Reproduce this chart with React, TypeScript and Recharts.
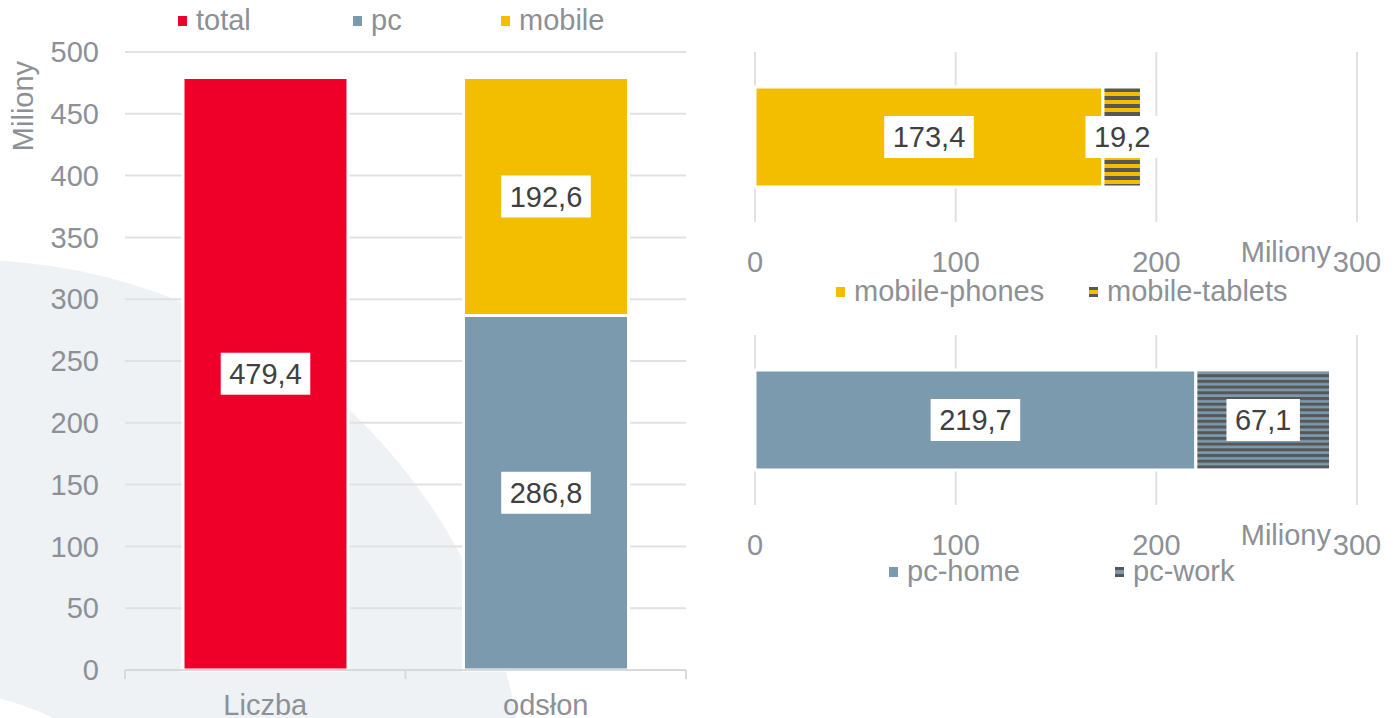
import React from "react";
import { BarChart, Bar, XAxis, YAxis, CartesianGrid, LabelList, Label } from "recharts";

// left chart: total vs pc + mobile
const categories = ["Liczba", "odsłon"];
const totalValues = [479.4, null];
const pcValues = [null, 286.8];
const mobileValues = [null, 192.6];
const leftTicks = [0, 50, 100, 150, 200, 250, 300, 350, 400, 450, 500];

// right charts
const mobileCategory = ["mobile"];
const mobilePhones = [173.4];
const mobileTablets = [19.2];
const pcCategory = ["pc"];
const pcHome = [219.7];
const pcWork = [67.1];
const rightTicks = [0, 100, 200, 300];

const FONT = '"Liberation Sans", Arial, Helvetica, sans-serif';
const GRAY = "#8d9095";
const DARK_TEXT = "#404040";
const GRID = "#e1e1e1";
const RED = "#ef0029";
const BLUE = "#7b9aae";
const YELLOW = "#f4be00";
const STRIPE = "#575757";
const FS = 29;

const leftData = categories.map((c, i) => ({
  category: c,
  total: totalValues[i],
  pc: pcValues[i],
  mobile: mobileValues[i],
}));
const mobileData = mobileCategory.map((c, i) => ({
  category: c,
  phones: mobilePhones[i],
  tablets: mobileTablets[i],
}));
const pcData = pcCategory.map((c, i) => ({
  category: c,
  home: pcHome[i],
  work: pcWork[i],
}));

const fmt = (v: number) => v.toFixed(1).replace(".", ",");

// rough Arial width of a number string
const textWidth = (s: string) =>
  s.split("").reduce((w, ch) => w + (ch === "," ? 0.278 : 0.556), 0) * FS;

const BoxLabel = (props: any) => {
  const { x, y, width, height, value } = props;
  if (value == null) return null;
  const text = fmt(Number(value));
  const w = textWidth(text) + 17;
  const h = 42;
  const cx = Number(x) + Number(width) / 2;
  const cy = Number(y) + Number(height) / 2;
  return (
    <g>
      <rect x={cx - w / 2} y={cy - h / 2} width={w} height={h} fill="#fff" />
      <text
        x={cx}
        y={cy}
        dy="0.36em"
        textAnchor="middle"
        fontSize={FS}
        fontFamily={FONT}
        fill={DARK_TEXT}
      >
        {text}
      </text>
    </g>
  );
};

const LEFT_W = 700;
const LEFT_H = 718;
const leftMargin = { top: 52, right: 14, bottom: 0, left: 0 };
const Y_AXIS_W = 125;
const HALF_BAND = (LEFT_W - leftMargin.right - leftMargin.left - Y_AXIS_W) / categories.length / 2;
const CAT_MARGIN = 24;

const CategoryTick = (props: any) => {
  const { x, y, payload, index } = props;
  const axisY = y - CAT_MARGIN;
  return (
    <g>
      <line x1={x - HALF_BAND} x2={x - HALF_BAND} y1={axisY} y2={axisY + 9} stroke="#d9d9d9" strokeWidth={2} />
      {index === categories.length - 1 && (
        <line x1={x + HALF_BAND} x2={x + HALF_BAND} y1={axisY} y2={axisY + 9} stroke="#d9d9d9" strokeWidth={2} />
      )}
      <text x={x} y={y} dy="0.71em" textAnchor="middle" fontSize={FS} fontFamily={FONT} fill={GRAY}>
        {payload.value}
      </text>
    </g>
  );
};

const LeftUnitLabel = (props: any) => {
  const vb = props.viewBox || { x: 0, y: 52 };
  const x = vb.x + 33;
  const y = vb.y + 54;
  return (
    <text
      x={x}
      y={y}
      transform={`rotate(-90, ${x}, ${y})`}
      textAnchor="middle"
      fontSize={FS}
      fontFamily={FONT}
      fill={GRAY}
    >
      Miliony
    </text>
  );
};

const RightUnitLabel = (props: any) => {
  const vb = props.viewBox || { x: 755, y: 222, width: 602 };
  return (
    <text
      x={vb.x + vb.width - 26}
      y={vb.y + 40}
      textAnchor="end"
      fontSize={FS}
      fontFamily={FONT}
      fill={GRAY}
    >
      Miliony
    </text>
  );
};

type LegendItem = { label: string; left: number; marker: string };

const HtmlLegend = ({ top, items }: { top: number; items: LegendItem[] }) => (
  <>
    {items.map((it) => (
      <div
        key={it.label}
        style={{
          position: "absolute",
          left: it.left,
          top,
          height: FS,
          lineHeight: `${FS}px`,
          fontSize: FS,
          fontFamily: FONT,
          color: GRAY,
          whiteSpace: "nowrap",
        }}
      >
        <span
          style={{
            position: "absolute",
            left: 0,
            top: 10,
            width: 9,
            height: 10,
            background: it.marker,
          }}
        />
        <span style={{ position: "absolute", left: 18, top: 0 }}>{it.label}</span>
      </div>
    ))}
  </>
);

const stripes = (base: string) =>
  `linear-gradient(to bottom, ${STRIPE} 0 3px, ${base} 3px 7px, ${STRIPE} 7px 10px)`;

const RightChart = ({
  data,
  keys,
  fills,
  top,
}: {
  data: any[];
  keys: string[];
  fills: string[];
  top: number;
}) => (
  <div style={{ position: "absolute", left: 700, top }}>
    <BarChart
      layout="vertical"
      width={698}
      height={278}
      data={data}
      margin={{ top: 52, right: 41, bottom: 0, left: 55 }}
      barSize={100}
    >
      <defs>
        <pattern id="stripeYellow" width={8} height={8} patternUnits="userSpaceOnUse">
          <rect width={8} height={8} fill={YELLOW} />
          <rect y={0} width={8} height={4} fill={STRIPE} />
        </pattern>
        <pattern id="stripeBlue" width={8} height={5.7} patternUnits="userSpaceOnUse">
          <rect width={8} height={5.7} fill={BLUE} />
          <rect y={0} width={8} height={3} fill={STRIPE} />
        </pattern>
      </defs>
      <CartesianGrid horizontal={false} stroke={GRID} strokeWidth={2} />
      <XAxis
        type="number"
        domain={[0, 300]}
        ticks={rightTicks}
        axisLine={false}
        tickLine={false}
        tickSize={0}
        tickMargin={29}
        height={56}
        interval={0}
        tick={{ fontSize: FS, fontFamily: FONT, fill: GRAY }}
      >
        <Label content={RightUnitLabel} />
      </XAxis>
      <YAxis type="category" dataKey="category" hide />
      {keys.map((k, i) => (
        <Bar
          key={k}
          dataKey={k}
          stackId="s"
          fill={fills[i]}
          stroke="#fff"
          strokeWidth={3}
          isAnimationActive={false}
        >
          <LabelList dataKey={k} content={BoxLabel} />
        </Bar>
      ))}
    </BarChart>
  </div>
);

export default function App() {
  return (
    <div
      style={{
        position: "absolute",
        left: 0,
        top: 0,
        width: 1398,
        height: 718,
        overflow: "hidden",
        background: "#fff",
        fontFamily: FONT,
      }}
    >
      <svg width={1398} height={718} style={{ position: "absolute", left: 0, top: 0 }}>
        <circle cx={-30} cy={815} r={555} fill="#eef2f5" />
        <circle cx={-80} cy={1000} r={312} fill="#fff" />
      </svg>

      <div style={{ position: "absolute", left: 0, top: 0 }}>
        <BarChart width={LEFT_W} height={LEFT_H} data={leftData} margin={leftMargin} barSize={165}>
          <CartesianGrid vertical={false} stroke={GRID} strokeWidth={2} />
          <XAxis
            dataKey="category"
            axisLine={{ stroke: "#d9d9d9", strokeWidth: 2 }}
            tickLine={false}
            tickSize={0}
            tickMargin={CAT_MARGIN}
            height={48}
            interval={0}
            tick={<CategoryTick />}
          />
          <YAxis
            type="number"
            domain={[0, 500]}
            ticks={leftTicks}
            width={Y_AXIS_W}
            axisLine={false}
            tickLine={false}
            tickSize={0}
            tickMargin={26}
            interval={0}
            tick={{ fontSize: FS, fontFamily: FONT, fill: GRAY }}
          >
            <Label content={LeftUnitLabel} />
          </YAxis>
          <Bar dataKey="total" stackId="a" fill={RED} stroke="#fff" strokeWidth={3} isAnimationActive={false}>
            <LabelList dataKey="total" content={BoxLabel} />
          </Bar>
          <Bar dataKey="pc" stackId="a" fill={BLUE} stroke="#fff" strokeWidth={3} isAnimationActive={false}>
            <LabelList dataKey="pc" content={BoxLabel} />
          </Bar>
          <Bar dataKey="mobile" stackId="a" fill={YELLOW} stroke="#fff" strokeWidth={3} isAnimationActive={false}>
            <LabelList dataKey="mobile" content={BoxLabel} />
          </Bar>
        </BarChart>
      </div>

      <HtmlLegend
        top={6}
        items={[
          { label: "total", left: 178, marker: RED },
          { label: "pc", left: 353, marker: BLUE },
          { label: "mobile", left: 501, marker: YELLOW },
        ]}
      />

      <RightChart
        data={mobileData}
        keys={["phones", "tablets"]}
        fills={[YELLOW, "url(#stripeYellow)"]}
        top={0}
      />
      <HtmlLegend
        top={277}
        items={[
          { label: "mobile-phones", left: 836, marker: YELLOW },
          { label: "mobile-tablets", left: 1089, marker: stripes(YELLOW) },
        ]}
      />

      <RightChart
        data={pcData}
        keys={["home", "work"]}
        fills={[BLUE, "url(#stripeBlue)"]}
        top={283}
      />
      <HtmlLegend
        top={557}
        items={[
          { label: "pc-home", left: 889, marker: BLUE },
          { label: "pc-work", left: 1115, marker: stripes(BLUE) },
        ]}
      />
    </div>
  );
}
